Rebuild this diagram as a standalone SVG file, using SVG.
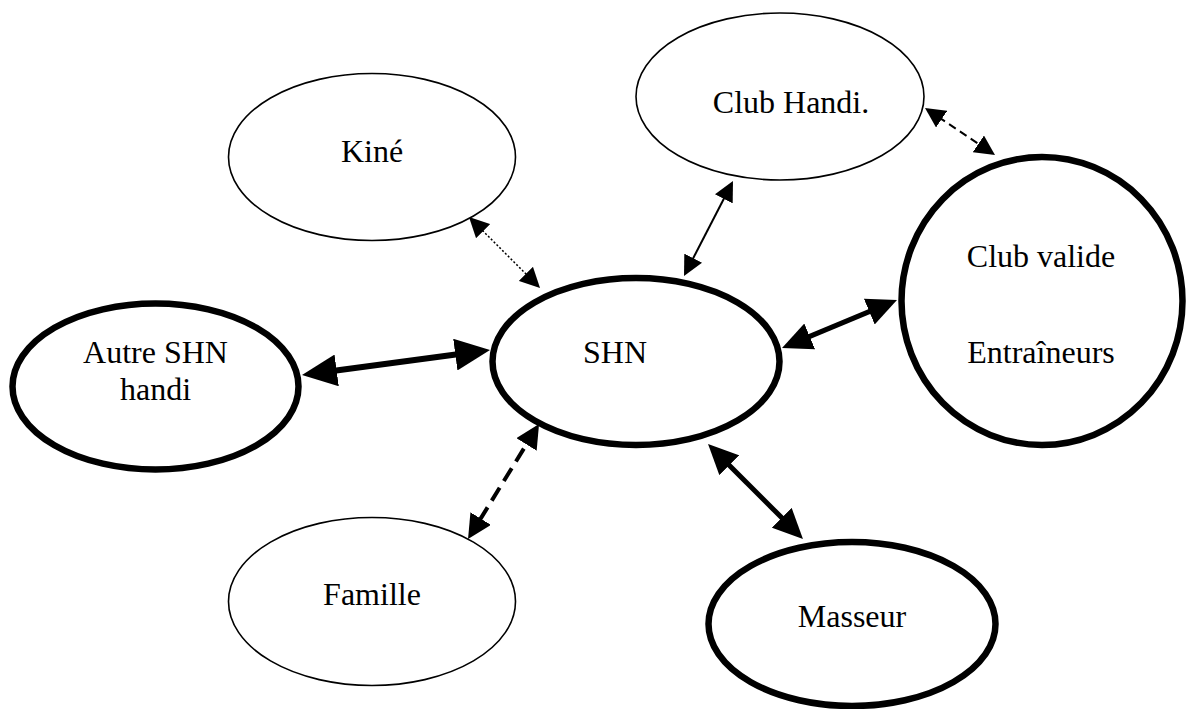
<svg xmlns="http://www.w3.org/2000/svg" width="1188" height="709" viewBox="0 0 1188 709">
<style>
.thin{fill:#fff;stroke:#000;stroke-width:1.6}
.thick{fill:#fff;stroke:#000;stroke-width:6.5}
.lbl{font-family:"Liberation Serif","Times New Roman",serif;font-size:32px;fill:#000;text-anchor:middle}
.c{fill:none;stroke:#000}
</style>
<defs>
<marker id="ah-s" markerUnits="userSpaceOnUse" viewBox="0 0 20 20" markerWidth="20" markerHeight="20" refX="17" refY="10" orient="auto-start-reverse"><path d="M0,0 L20,10 L0,20 z" fill="#000"/></marker>
<marker id="ah-f" markerUnits="userSpaceOnUse" viewBox="0 0 24 24" markerWidth="24" markerHeight="24" refX="18" refY="12" orient="auto-start-reverse"><path d="M0,0 L24,12 L0,24 z" fill="#000"/></marker>
<marker id="ah-m" markerUnits="userSpaceOnUse" viewBox="0 0 30 28" markerWidth="30" markerHeight="28" refX="22" refY="14" orient="auto-start-reverse"><path d="M0,0 L30,14 L0,28 z" fill="#000"/></marker>
<marker id="ah-l" markerUnits="userSpaceOnUse" viewBox="0 0 35 32" markerWidth="35" markerHeight="32" refX="25" refY="16" orient="auto-start-reverse"><path d="M0,0 L35,16 L0,32 z" fill="#000"/></marker>
</defs>
<rect width="1188" height="709" fill="#fff"/>
<g id="connectors">
<line class="c" x1="471.1" y1="219.1" x2="537.9" y2="285.9" stroke-width="1.5" stroke-dasharray="2 2" marker-start="url(#ah-s)" marker-end="url(#ah-s)"/>
<line class="c" x1="731.6" y1="183.7" x2="685.4" y2="273.3" stroke-width="2" marker-start="url(#ah-s)" marker-end="url(#ah-s)"/>
<line class="c" x1="927.5" y1="109.7" x2="992.5" y2="153.3" stroke-width="2" stroke-dasharray="8 5" marker-start="url(#ah-s)" marker-end="url(#ah-s)"/>
<line class="c" x1="311.9" y1="373.7" x2="480.1" y2="351.3" stroke-width="6" marker-start="url(#ah-l)" marker-end="url(#ah-l)"/>
<line class="c" x1="789.4" y1="344.9" x2="889.6" y2="303.1" stroke-width="5" marker-start="url(#ah-m)" marker-end="url(#ah-m)"/>
<line class="c" x1="535.9" y1="429.1" x2="471.2" y2="533.9" stroke-width="4" stroke-dasharray="15 8" marker-start="url(#ah-f)" marker-end="url(#ah-f)"/>
<line class="c" x1="713.7" y1="449.7" x2="797.3" y2="533.3" stroke-width="5" marker-start="url(#ah-m)" marker-end="url(#ah-m)"/>
</g>
<g id="kine">
<ellipse class="thin" cx="372" cy="157" rx="143.5" ry="83.5"/>
<text class="lbl" x="372" y="162">Kiné</text>
</g>
<g id="club-handi">
<ellipse class="thin" cx="780" cy="96.5" rx="144" ry="83.5"/>
<text class="lbl" x="791" y="113">Club Handi.</text>
</g>
<g id="club-valide">
<ellipse class="thick" cx="1042" cy="301" rx="140.5" ry="144"/>
<text class="lbl" x="1041" y="267">Club valide</text>
<text class="lbl" x="1041" y="363">Entraîneurs</text>
</g>
<g id="shn">
<ellipse class="thick" cx="636" cy="361.5" rx="143.5" ry="83.5"/>
<text class="lbl" x="615" y="363">SHN</text>
</g>
<g id="autre-shn">
<ellipse class="thick" cx="155.5" cy="386.5" rx="143" ry="83"/>
<text class="lbl" x="155.5" y="363">Autre SHN</text>
<text class="lbl" x="155.5" y="400">handi</text>
</g>
<g id="famille">
<ellipse class="thin" cx="372" cy="601.5" rx="143.5" ry="84"/>
<text class="lbl" x="372" y="605">Famille</text>
</g>
<g id="masseur">
<ellipse class="thick" cx="852" cy="624" rx="143.5" ry="82"/>
<text class="lbl" x="852" y="627">Masseur</text>
</g>
</svg>
